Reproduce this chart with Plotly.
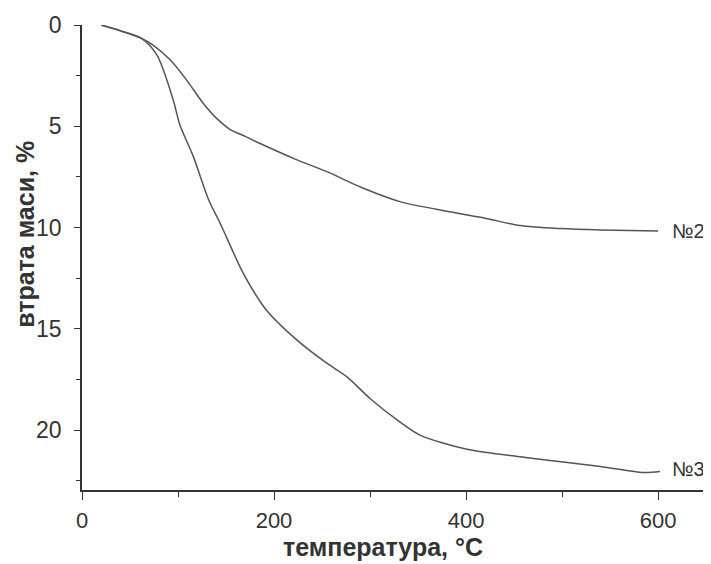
import plotly.graph_objects as go

# крива №2
t2 = [20, 43, 62, 74, 92, 109, 126, 140, 154, 170, 185, 222, 255, 290, 331, 383, 421, 456, 498, 540, 600]
m2 = [0, 0.33, 0.66, 0.99, 1.73, 2.72, 3.85, 4.6, 5.15, 5.5, 5.84, 6.62, 7.24, 8.0, 8.72, 9.22, 9.55, 9.9, 10.05, 10.12, 10.17]

# крива №3
t3 = [20, 43, 62, 78, 95, 102, 116, 132, 144, 168, 192, 224, 255, 276, 300, 331, 352, 401, 470, 540, 585, 602]
m3 = [0, 0.33, 0.66, 1.48, 3.7, 4.94, 6.5, 8.64, 9.8, 12.26, 14.07, 15.56, 16.7, 17.37, 18.44, 19.6, 20.25, 20.95, 21.4, 21.8, 22.1, 22.05]

x_ticks = [0, 200, 400, 600]
y_ticks = [0, 5, 10, 15, 20]

FONT = "Liberation Sans"
INK = "#333333"
LINE = "#555555"

fig = go.Figure()
fig.add_trace(go.Scatter(x=t2, y=m2, mode="lines", line=dict(color=LINE, width=1.5, shape="spline", smoothing=0.8),
                         showlegend=False))
fig.add_trace(go.Scatter(x=t3, y=m3, mode="lines", line=dict(color=LINE, width=1.5, shape="spline", smoothing=0.8),
                         showlegend=False))

fig.add_annotation(x=612, y=m2[-1], xref="x", yref="y", text="№2", showarrow=False,
                   xanchor="left", font=dict(family=FONT, size=20, color=INK))
fig.add_annotation(x=612, y=m3[-1] - 0.15, xref="x", yref="y", text="№3", showarrow=False,
                   xanchor="left", font=dict(family=FONT, size=20, color=INK))

# підписи осей
fig.add_annotation(x=0.482, y=-0.1226, xref="paper", yref="paper", text="<b>температура, °C</b>",
                   showarrow=False, xanchor="center", yanchor="middle",
                   font=dict(family=FONT, size=25, color=INK))
fig.add_annotation(x=-0.091, y=0.549, xref="paper", yref="paper", text="<b>втрата маси, %</b>",
                   showarrow=False, textangle=-90, xanchor="center", yanchor="middle",
                   font=dict(family=FONT, size=25, color=INK))

fig.update_xaxes(range=[0, 651], tickvals=x_ticks, ticks="outside", ticklen=8, tickwidth=1, tickcolor=INK,
                 minor=dict(dtick=100, tick0=0, ticks="outside", ticklen=5, tickcolor=INK, showgrid=False),
                 showline=True, linecolor=INK, linewidth=1.5, showgrid=False, zeroline=False,
                 ticklabelstandoff=2,
                 tickfont=dict(family=FONT, size=22, color=INK))
fig.update_yaxes(range=[22.96, 0], tickvals=y_ticks, ticks="outside", ticklen=6, tickwidth=1, tickcolor=INK,
                 minor=dict(dtick=2.5, tick0=0, ticks="outside", ticklen=4, tickcolor=INK, showgrid=False),
                 showline=True, linecolor=INK, linewidth=1.5, showgrid=False, zeroline=False,
                 ticklabelstandoff=8,
                 tickfont=dict(family=FONT, size=23, color=INK))

# сторінка має відступ 8px, тому полотно трохи менше за вікно
fig.update_layout(width=703, height=556, margin=dict(l=74, r=4, t=17, b=74),
                  paper_bgcolor="white", plot_bgcolor="white")

fig.write_html("out.html")
